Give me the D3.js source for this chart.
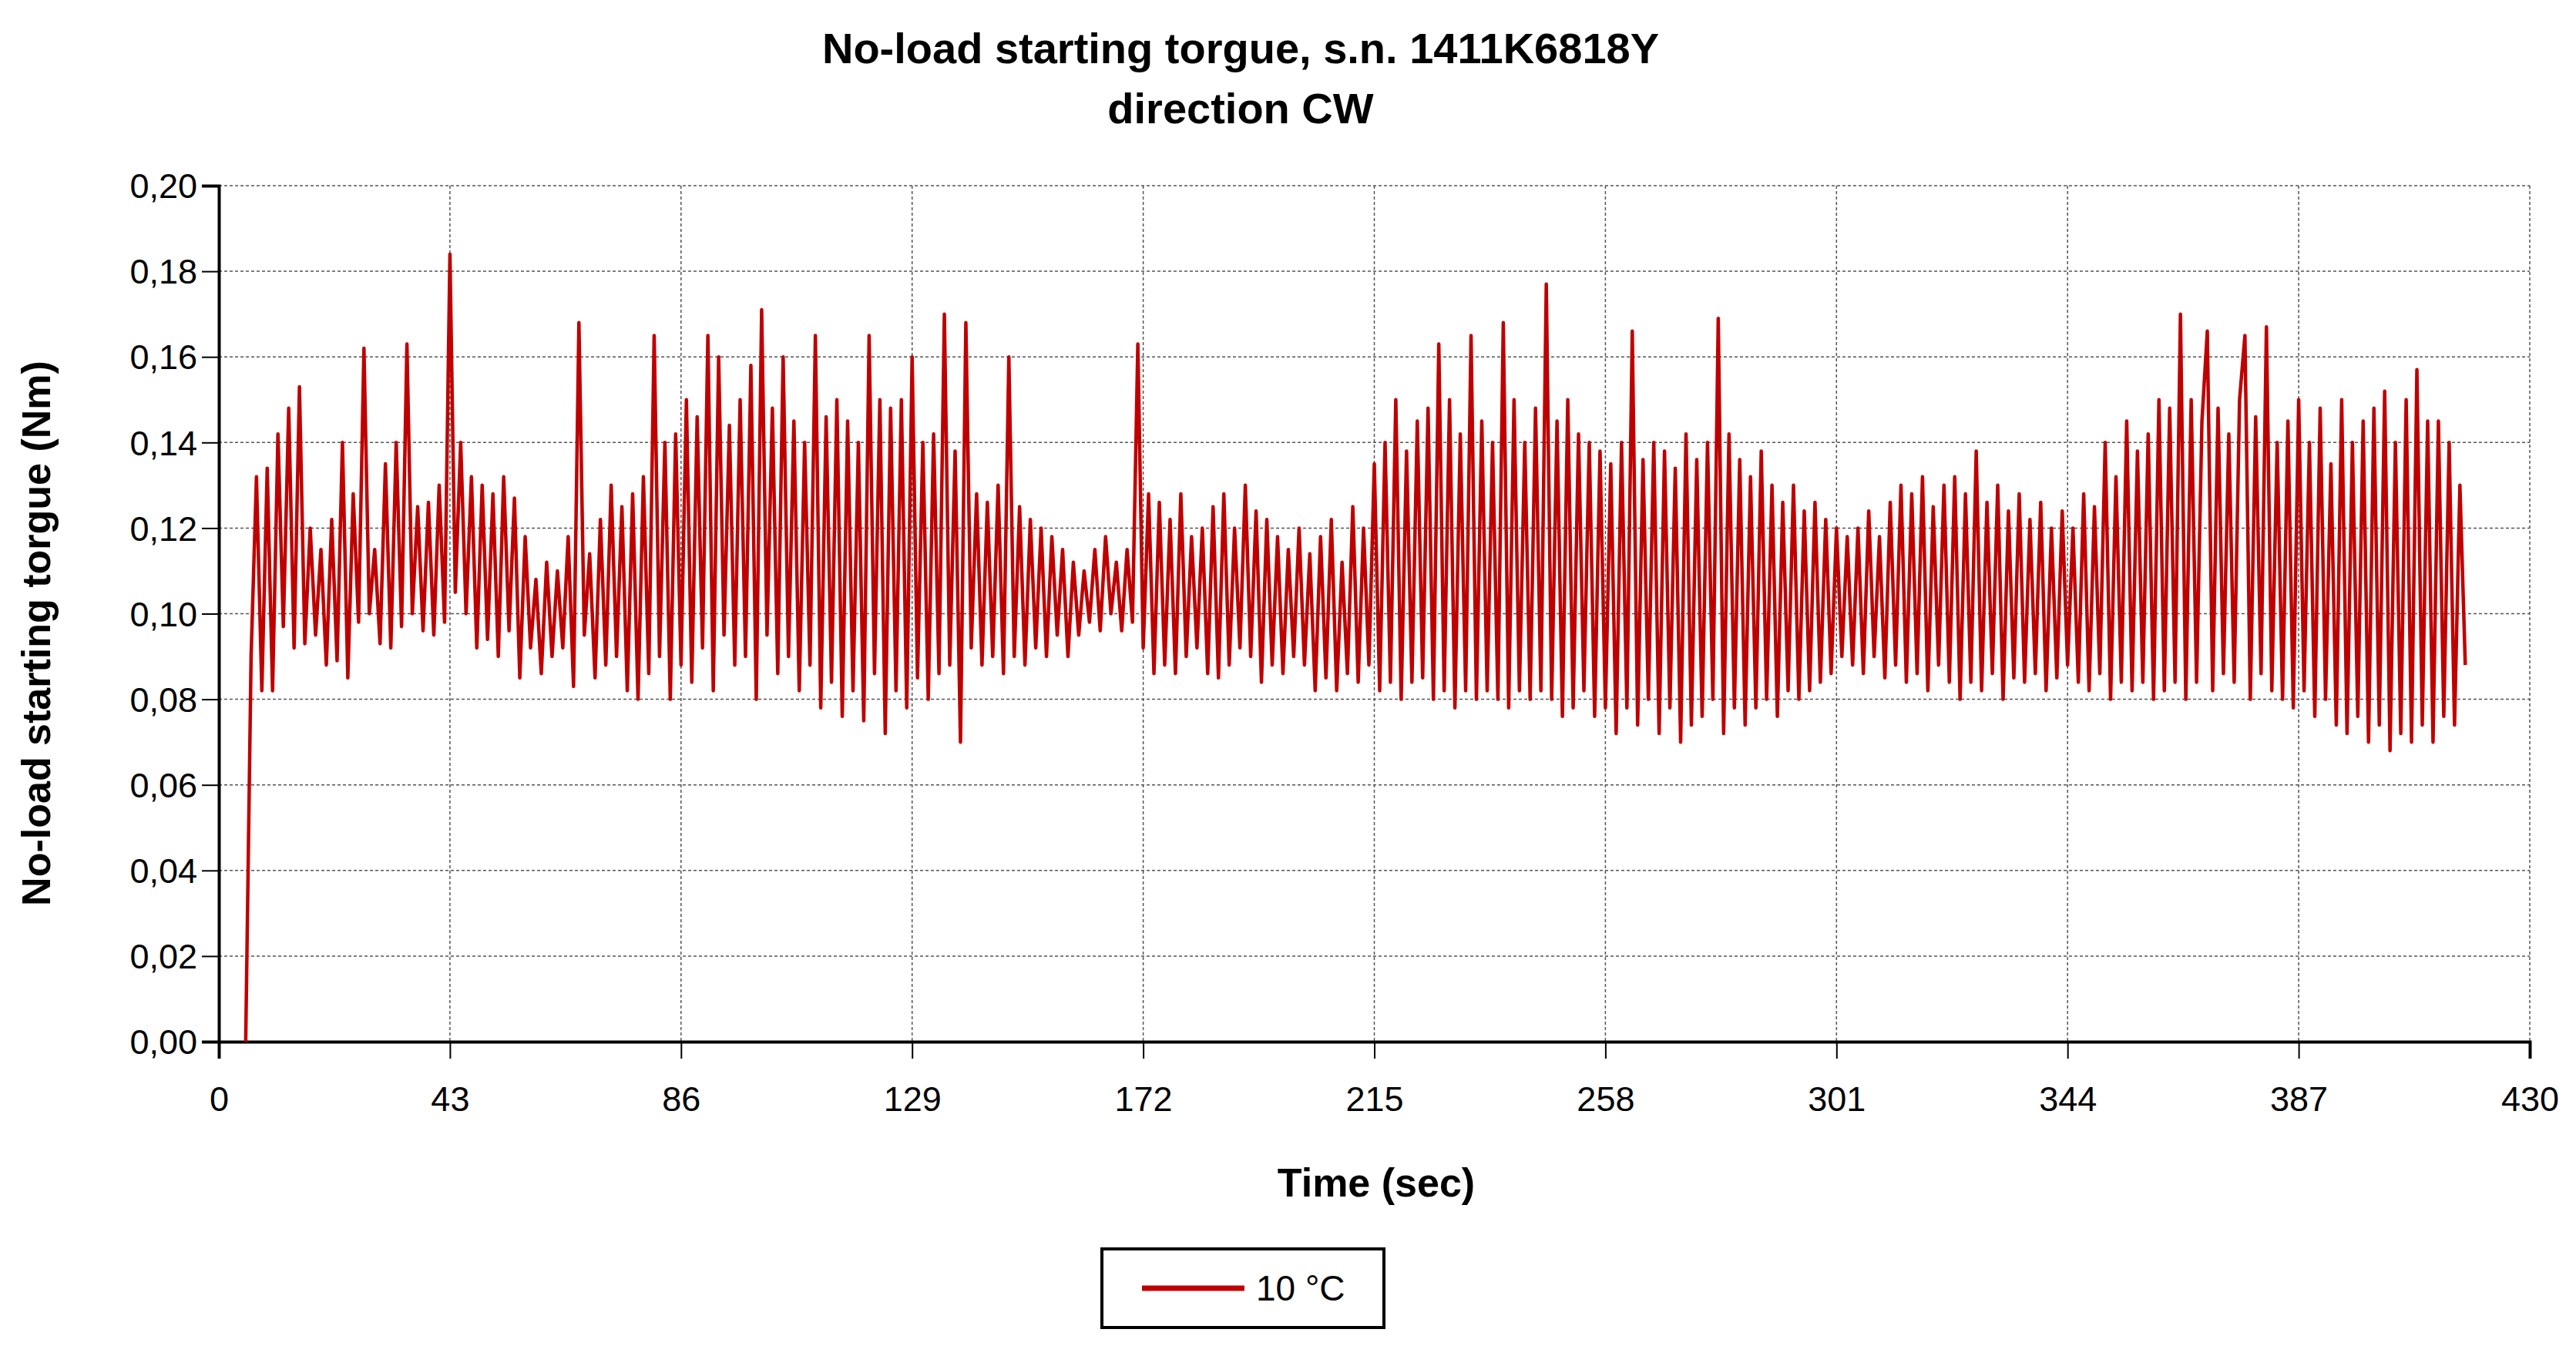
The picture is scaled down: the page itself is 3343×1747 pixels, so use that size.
<!DOCTYPE html>
<html>
<head>
<meta charset="utf-8">
<script src="https://cdn.jsdelivr.net/npm/d3@7"></script>
<style>
  body { margin: 0; background: #fff; }
  text { font-family: "Liberation Sans", Arial, sans-serif; }
</style>
</head>
<body>
<svg id="chart" width="3343" height="1747"></svg>
<script>
// torque readings in thousandths of Nm, one per second starting at t = 5
const startTime = 5;
const torque = [
  0, 90, 132, 82, 134, 82, 142, 97, 148, 92,
  153, 93, 120, 95, 115, 88, 122, 89, 140, 85,
  128, 98, 162, 100, 115, 93, 135, 92, 140, 97,
  163, 100, 125, 96, 126, 95, 130, 98, 184, 105,
  140, 100, 132, 92, 130, 94, 128, 90, 132, 96,
  127, 85, 118, 92, 108, 86, 112, 90, 110, 92,
  118, 83, 168, 95, 114, 85, 122, 88, 130, 90,
  125, 82, 128, 80, 132, 86, 165, 90, 140, 80,
  142, 88, 150, 84, 146, 92, 165, 82, 160, 95,
  144, 88, 150, 90, 158, 80, 171, 95, 148, 86,
  160, 90, 145, 82, 140, 88, 165, 78, 146, 84,
  150, 76, 145, 82, 140, 75, 165, 86, 150, 72,
  148, 82, 150, 78, 160, 85, 140, 80, 142, 86,
  170, 88, 138, 70, 168, 92, 128, 88, 126, 90,
  130, 86, 160, 90, 125, 88, 122, 92, 120, 90,
  118, 95, 115, 90, 112, 95, 110, 98, 115, 96,
  118, 100, 112, 96, 115, 98, 163, 92, 128, 86,
  126, 88, 122, 86, 128, 90, 118, 92, 120, 86,
  125, 85, 128, 88, 120, 92, 130, 90, 124, 84,
  122, 88, 118, 86, 115, 90, 120, 88, 114, 82,
  118, 85, 122, 82, 112, 86, 125, 84, 120, 88,
  135, 82, 140, 84, 150, 80, 138, 84, 145, 85,
  148, 80, 163, 82, 150, 78, 142, 82, 165, 80,
  145, 82, 140, 80, 168, 78, 150, 82, 140, 80,
  148, 82, 177, 80, 145, 76, 150, 78, 142, 82,
  140, 76, 138, 78, 135, 72, 140, 78, 166, 74,
  136, 80, 140, 72, 138, 78, 134, 70, 142, 74,
  136, 76, 140, 80, 169, 72, 142, 78, 136, 74,
  132, 78, 138, 80, 130, 76, 126, 82, 130, 80,
  124, 82, 126, 84, 122, 86, 120, 90, 118, 88,
  120, 86, 124, 90, 118, 85, 126, 88, 130, 84,
  128, 86, 132, 82, 125, 88, 130, 84, 132, 80,
  128, 84, 138, 82, 126, 86, 130, 80, 124, 85,
  128, 84, 122, 86, 126, 82, 120, 85, 124, 88,
  120, 84, 128, 82, 125, 86, 140, 80, 132, 84,
  145, 82, 138, 84, 142, 80, 150, 82, 148, 84,
  170, 80, 150, 84, 145, 166, 82, 148, 86, 142,
  84, 150, 165, 80, 146, 86, 167, 82, 140, 80,
  145, 78, 150, 82, 140, 76, 148, 80, 135, 74,
  150, 72, 140, 76, 145, 70, 148, 74, 152, 68,
  140, 72, 150, 70, 157, 74, 145, 70, 145, 76,
  140, 74, 130, 88
];
const xTicks = [0, 43, 86, 129, 172, 215, 258, 301, 344, 387, 430];
const yTicks = [0, 0.02, 0.04, 0.06, 0.08, 0.1, 0.12, 0.14, 0.16, 0.18, 0.2];
const seriesName = "10 °C";

const svg = d3.select("#chart");
const plotLeft = 284, plotRight = 3283, plotTop = 241, plotBottom = 1352;

const x = d3.scaleLinear().domain([0, 430]).range([plotLeft, plotRight]);
const y = d3.scaleLinear().domain([0, 0.2]).range([plotBottom, plotTop]);
const fmt = (v) => v.toFixed(2).replace(".", ",");

// grid
svg.append("g")
  .selectAll("line")
  .data(xTicks.slice(1))
  .join("line")
  .attr("x1", (d) => x(d)).attr("x2", (d) => x(d))
  .attr("y1", plotTop).attr("y2", plotBottom)
  .attr("stroke", "#555").attr("stroke-width", 1.5)
  .attr("stroke-dasharray", "4,3");
svg.append("g")
  .selectAll("line")
  .data(yTicks.slice(1))
  .join("line")
  .attr("x1", plotLeft).attr("x2", plotRight)
  .attr("y1", (d) => y(d)).attr("y2", (d) => y(d))
  .attr("stroke", "#555").attr("stroke-width", 1.5)
  .attr("stroke-dasharray", "4,3");

// axes
const xAxis = svg.append("g")
  .attr("transform", `translate(0, ${plotBottom})`)
  .call(d3.axisBottom(x).tickValues(xTicks).tickSize(22).tickFormat(d3.format("d")));
const yAxis = svg.append("g")
  .attr("transform", `translate(${plotLeft}, 0)`)
  .call(d3.axisLeft(y).tickValues(yTicks).tickSize(22).tickFormat(fmt));
[xAxis, yAxis].forEach((a) => {
  a.select(".domain").attr("stroke", "#000").attr("stroke-width", 4);
  a.selectAll(".tick line").attr("stroke", "#000").attr("stroke-width", 2);
  a.selectAll(".tick text")
    .attr("font-size", 45)
    .attr("font-family", "Liberation Sans, Arial, sans-serif")
    .attr("fill", "#000");
});
xAxis.selectAll(".tick text").attr("dy", "1.45em");
yAxis.selectAll(".tick text").attr("x", -28).attr("dy", "0.35em");

// data line
const line = d3.line()
  .x((d, i) => x(startTime + i))
  .y((d) => y(d / 1000));
svg.append("path")
  .datum(torque)
  .attr("d", line)
  .attr("fill", "none")
  .attr("stroke", "#c00000")
  .attr("stroke-width", 4.5)
  .attr("stroke-linejoin", "round");

// titles
svg.append("text")
  .attr("x", 1610).attr("y", 82)
  .attr("text-anchor", "middle")
  .attr("font-size", 56).attr("font-weight", "bold")
  .text("No-load starting torgue, s.n. 1411K6818Y");
svg.append("text")
  .attr("x", 1610).attr("y", 160)
  .attr("text-anchor", "middle")
  .attr("font-size", 56).attr("font-weight", "bold")
  .text("direction CW");
svg.append("text")
  .attr("x", 1786).attr("y", 1553)
  .attr("text-anchor", "middle")
  .attr("font-size", 52).attr("font-weight", "bold")
  .text("Time (sec)");
svg.append("text")
  .attr("text-anchor", "middle")
  .attr("font-size", 52).attr("font-weight", "bold")
  .attr("transform", "translate(65, 822) rotate(-90)")
  .text("No-load starting torgue (Nm)");

// legend
svg.append("rect")
  .attr("x", 1430).attr("y", 1621)
  .attr("width", 366).attr("height", 102)
  .attr("fill", "#fff").attr("stroke", "#000").attr("stroke-width", 4);
svg.append("line")
  .attr("x1", 1482).attr("x2", 1615)
  .attr("y1", 1672).attr("y2", 1672)
  .attr("stroke", "#c00000").attr("stroke-width", 7);
svg.append("text")
  .attr("x", 1630).attr("y", 1688)
  .attr("font-size", 46)
  .text(seriesName);
</script>
</body>
</html>
